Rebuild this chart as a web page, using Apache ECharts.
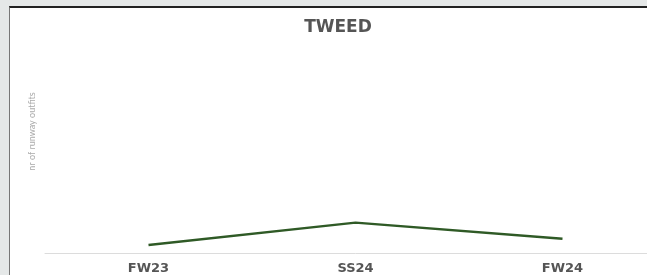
<!DOCTYPE html>
<html>
<head>
<meta charset="utf-8">
<script src="https://cdn.jsdelivr.net/npm/echarts@6/dist/echarts.min.js"></script>
<style>
  html, body {
    margin: 0;
    padding: 0;
    width: 647px;
    height: 275px;
    overflow: hidden;
    background: #e5e8e8;
  }
  .frame {
    position: absolute;
    left: 9px;
    top: 6px;
    width: 700px;
    height: 300px;
    background: #fff;
    border-top: 2px solid #222;
    border-left: 1px solid #777;
  }
  #chart {
    position: absolute;
    left: 0;
    top: 0;
    width: 656px;
    height: 290px;
  }
</style>
</head>
<body>
<div class="frame">
  <div id="chart"></div>
</div>
<script>
// seasons on the x axis
const seasons = ["FW23", "SS24", "FW24"];
// nr of runway outfits featuring tweed
const outfits = [4, 15, 7];

const chart = echarts.init(document.getElementById("chart"));

chart.setOption({
  animation: false,
  title: {
    text: "TWEED",
    left: "center",
    top: 6,
    textStyle: {
      fontFamily: "DejaVu Sans",
      fontWeight: "bold",
      fontSize: 17,
      color: "#555",
    },
  },
  grid: {
    left: 35,
    right: 0,
    top: 2,
    bottom: 45,
  },
  xAxis: {
    type: "category",
    data: seasons,
    boundaryGap: true,
    axisLine: {
      lineStyle: { color: "#dcdcdc", width: 1 },
    },
    axisTick: { show: false },
    axisLabel: {
      margin: 9,
      fontFamily: "DejaVu Sans",
      fontWeight: "bold",
      fontSize: 13,
      color: "#555",
    },
  },
  yAxis: {
    type: "value",
    min: 0,
    max: 120,
    name: "nr of runway outfits",
    nameLocation: "middle",
    nameGap: 8,
    nameTextStyle: {
      fontFamily: "Lato",
      fontSize: 9,
      color: "#aaa",
    },
    axisLine: { show: false },
    axisTick: { show: false },
    axisLabel: { show: false },
    splitLine: { show: false },
  },
  series: [
    {
      type: "line",
      data: outfits,
      symbol: "none",
      lineStyle: { color: "#2f5a26", width: 2.5 },
    },
  ],
});
</script>
</body>
</html>
